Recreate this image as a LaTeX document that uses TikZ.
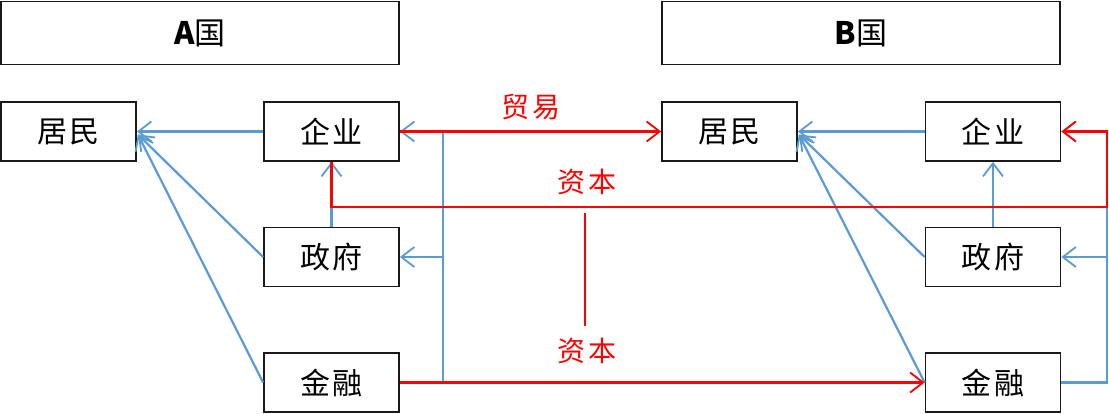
\documentclass[tikz,border=0pt]{standalone}
\usepackage{fontspec}
\setmainfont{Noto Sans CJK SC}
\newfontfamily\boxfont[LetterSpace=8]{Noto Sans CJK SC}
\usetikzlibrary{arrows.meta,calc}
\definecolor{lblue}{HTML}{5B9BD5}
\definecolor{lred}{HTML}{FF0000}
\begin{document}
\begin{tikzpicture}[x=1pt,y=-1pt,
  box/.style={draw=black!90,line width=1.8pt,rectangle,inner sep=0pt,
    minimum width=135pt,minimum height=59pt,font=\boxfont\fontsize{30}{30}\selectfont},
  hbox/.style={box,minimum width=398pt,minimum height=63pt,font=\fontsize{31}{31}\selectfont},
  tip/.style={-{Straight Barb[length=13pt,width=20pt,line width=1.8pt]}},
  bline/.style={draw=lblue,line width=2.2pt},
  rline/.style={draw=lred,line width=2.2pt},
  lab/.style={text=lred,font=\boxfont\fontsize{28}{28}\selectfont,inner sep=0pt}]
\useasboundingbox (0,0) rectangle (1109,413);
% headers
\node[hbox] (hA) at (200,33) {{\bfseries A}国};
\node[hbox] (hB) at (861,33) {{\bfseries B}国};
% country A
\node[box] (rA) at (68.5,131.5) {居民};
\node[box] (eA) at (331.5,131.5) {企业};
\node[box] (gA) at (331.5,257) {政府};
\node[box] (fA) at (331.5,382.5) {金融};
% country B
\node[box] (rB) at (729.5,131.5) {居民};
\node[box] (eB) at (993,131.5) {企业};
\node[box] (gB) at (993,257) {政府};
\node[box] (fB) at (993,382.5) {金融};
% helper coordinates
\coordinate (busA) at (443,0);
\coordinate (busB) at (1107,0);
\coordinate (capY) at (0,207);
\coordinate (m1) at (585,213);
\coordinate (m2) at (585,326);
\coordinate (rAin) at ($(rA.east)+(1,3)$);
\coordinate (rBin) at ($(rB.east)+(1,3)$);
% blue flows A
\draw[bline,tip] (eA.west) -- (rA.east);
\draw[bline,tip] (gA.west) -- (rAin);
\draw[bline,tip] (fA.west) -- (rAin);
\draw[bline,tip] (gA.north) -- (eA.south);
\draw[bline,tip] (fA.east) -- (busA |- fA.east) -- (busA |- eA.east) -- (eA.east);
\draw[bline,tip] (busA |- gA.east) -- (gA.east);
% blue flows B
\draw[bline,tip] (eB.west) -- (rB.east);
\draw[bline,tip] (gB.west) -- (rBin);
\draw[bline,tip] (fB.west) -- (rBin);
\draw[bline,tip] (gB.north) -- (eB.south);
\draw[bline,tip] (fB.east) -- (busB |- fB.east) -- (busB |- eB.east) -- (eB.east);
\draw[bline,tip] (busB |- gB.east) -- (gB.east);
% red flows
\draw[rline,tip] (eA.east) -- (rB.west);
\draw[rline,tip] (fA.east) -- (fB.west);
\draw[rline,tip] (eA.south) -- (eA.south |- capY) -- (busB |- capY) -- (busB |- eB.east) -- (eB.east);
\draw[rline] (m1) -- (m2);
% labels
\node[lab] (ltrade) at (531,107) {贸易};
\node[lab] (lcap1) at (587,182) {资本};
\node[lab] (lcap2) at (587,351) {资本};
\end{tikzpicture}
\end{document}
